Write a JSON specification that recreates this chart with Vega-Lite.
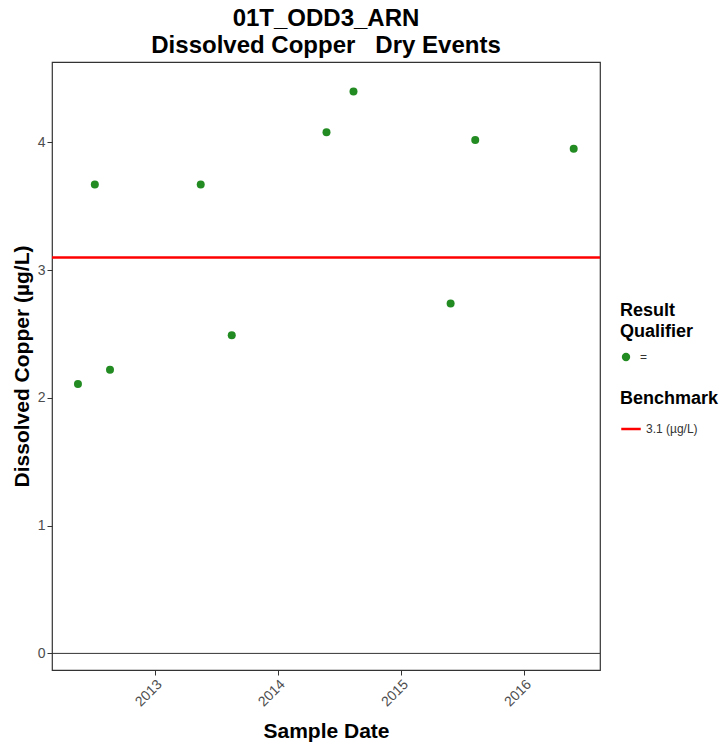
{
  "$schema": "https://vega.github.io/schema/vega-lite/v6.json",
  "autosize": "none",
  "width": 548,
  "height": 608,
  "padding": {"left": 52, "top": 62, "right": 127, "bottom": 76},
  "background": "white",
  "title": {
    "text": ["01T_ODD3_ARN", "Dissolved Copper\u00a0\u00a0\u00a0Dry Events"],
    "font": "Liberation Sans",
    "fontSize": 24,
    "fontWeight": "bold",
    "color": "black",
    "anchor": "middle",
    "frame": "group",
    "offset": 4,
    "lineHeight": 27
  },
  "config": {
    "view": {"stroke": "#333333", "strokeWidth": 1.2},
    "axis": {
      "grid": false,
      "domain": false,
      "tickColor": "#333333",
      "tickSize": 5,
      "labelColor": "#4d4d4d",
      "labelFont": "Liberation Sans",
      "labelFontSize": 14,
      "titleFont": "Liberation Sans",
      "titleFontSize": 21,
      "titleFontWeight": "bold",
      "titleColor": "black"
    },
    "legend": {
      "titleFont": "Liberation Sans",
      "titleFontSize": 18,
      "titleFontWeight": "bold",
      "titleColor": "black",
      "labelFont": "Liberation Sans",
      "labelFontSize": 12,
      "labelColor": "#333333"
    }
  },
  "datasets": {
    "points": [
      {"date": "2012-05-19", "value": 2.11, "qualifier": "="},
      {"date": "2012-07-08", "value": 3.67, "qualifier": "="},
      {"date": "2012-08-22", "value": 2.22, "qualifier": "="},
      {"date": "2013-05-18", "value": 3.67, "qualifier": "="},
      {"date": "2013-08-18", "value": 2.49, "qualifier": "="},
      {"date": "2014-05-26", "value": 4.08, "qualifier": "="},
      {"date": "2014-08-14", "value": 4.40, "qualifier": "="},
      {"date": "2015-05-29", "value": 2.74, "qualifier": "="},
      {"date": "2015-08-10", "value": 4.02, "qualifier": "="},
      {"date": "2016-05-28", "value": 3.95, "qualifier": "="}
    ],
    "bench": [{"value": 3.1, "label": "3.1 (µg/L)"}],
    "zero": [{"value": 0}]
  },
  "layer": [
    {
      "data": {"name": "zero"},
      "mark": {"type": "rule", "color": "#333333", "strokeWidth": 1},
      "encoding": {"y": {"field": "value", "type": "quantitative"}}
    },
    {
      "data": {"name": "bench"},
      "mark": {"type": "rule", "strokeWidth": 2.5},
      "encoding": {
        "y": {"field": "value", "type": "quantitative"},
        "stroke": {
          "field": "label",
          "type": "nominal",
          "scale": {"range": ["#ff0000"]},
          "legend": {
            "title": "Benchmark",
            "orient": "none",
            "legendX": 568,
            "legendY": 328,
            "symbolType": "stroke",
            "symbolStrokeWidth": 2.5,
            "symbolSize": 380,
            "labelOffset": 4,
            "titlePadding": 10
          }
        }
      }
    },
    {
      "data": {"name": "points"},
      "mark": {"type": "circle", "size": 64, "opacity": 1},
      "encoding": {
        "x": {
          "field": "date",
          "type": "temporal",
          "scale": {"domain": ["2012-03-03", "2016-08-14"]},
          "axis": {
            "title": "Sample Date",
            "format": "%Y",
            "tickCount": {"interval": "year", "step": 1},
            "labelAngle": -45,
            "labelAlign": "right",
            "labelBaseline": "top",
            "labelPadding": 2,
            "titlePadding": 12
          }
        },
        "y": {
          "field": "value",
          "type": "quantitative",
          "scale": {"domain": [-0.13, 4.63], "nice": false, "zero": false},
          "axis": {
            "title": "Dissolved Copper (µg/L)",
            "values": [0, 1, 2, 3, 4],
            "format": "d",
            "titlePadding": 5
          }
        },
        "fill": {
          "field": "qualifier",
          "type": "nominal",
          "scale": {"range": ["#228B22"]},
          "legend": {
            "title": ["Result", "Qualifier"],
            "orient": "none",
            "legendX": 568,
            "legendY": 240,
            "symbolType": "circle",
            "symbolSize": 70,
            "labelOffset": 8,
            "titlePadding": 10,
            "titleLineHeight": 21
          }
        }
      }
    }
  ]
}
